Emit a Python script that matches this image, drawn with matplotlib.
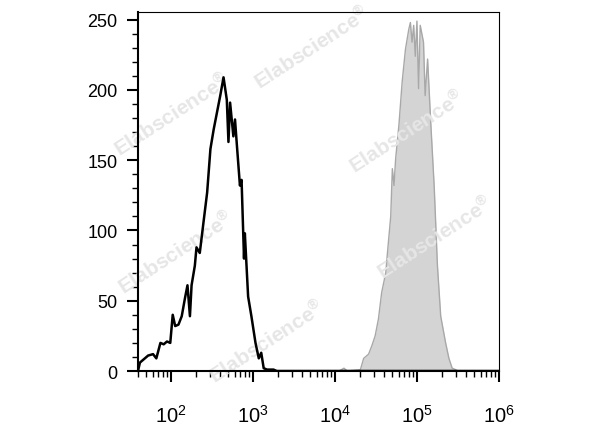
import matplotlib
matplotlib.use("Agg")
import matplotlib.pyplot as plt
import matplotlib.ticker as ticker
import numpy as np

plt.rcParams['font.family'] = ['Liberation Sans', 'DejaVu Sans']
plt.rcParams['mathtext.fontset'] = 'custom'
plt.rcParams['mathtext.rm'] = 'Liberation Sans'
plt.rcParams['mathtext.bf'] = 'Liberation Sans:bold'

# unstained / isotype control (black outline), log10 of fluorescence vs count
ctrl_log = [1.60, 1.62, 1.66, 1.72, 1.78, 1.82, 1.87, 1.91, 1.95, 1.99, 2.02, 2.05,
            2.09, 2.13, 2.17, 2.20, 2.23, 2.25, 2.29, 2.31, 2.35, 2.40, 2.44, 2.48,
            2.52, 2.56, 2.60, 2.64, 2.68, 2.70, 2.72, 2.76, 2.78, 2.80, 2.84, 2.86,
            2.89, 2.90, 2.94, 2.98, 3.03, 3.07, 3.10, 3.13, 3.17, 3.25, 3.29, 6.0]
ctrl_cnt = [1, 6, 8, 11, 12, 9, 20, 19, 21, 20, 40, 32,
            33, 39, 52, 61, 39, 61, 75, 88, 84, 108, 127, 158,
            172, 184, 196, 209, 193, 163, 191, 167, 179, 163, 132, 136,
            80, 98, 53, 39, 20, 9, 13, 2, 1, 1, 0, 0]

# stained sample (grey filled)
stain_log = [1.60, 4.05, 4.11, 4.15, 4.31, 4.35, 4.41, 4.45, 4.49, 4.53, 4.57, 4.62,
             4.64, 4.68, 4.70, 4.72, 4.74, 4.78, 4.82, 4.86, 4.90, 4.92, 4.94,
             4.96, 4.98, 5.00, 5.02, 5.04, 5.08, 5.10, 5.13, 5.17, 5.21, 5.25,
             5.29, 5.35, 5.39, 5.43, 5.47, 5.50, 6.0]
stain_cnt = [0, 0, 2, 0, 1, 9, 12, 18, 25, 37, 56, 70,
             84, 110, 144, 132, 151, 175, 206, 229, 243, 248, 234,
             246, 224, 249, 201, 246, 234, 196, 222, 175, 132, 75,
             39, 20, 9, 2, 1, 0, 0]

x_ticks = [1e2, 1e3, 1e4, 1e5, 1e6]
x_labels = ['$10^{2}$', '$10^{3}$', '$10^{4}$', '$10^{5}$', '$10^{6}$']
y_ticks = [0, 50, 100, 150, 200, 250]

fig = plt.figure(figsize=(6, 4.27), dpi=100)
ax = fig.add_axes([0.2305, 0.1288, 0.601, 0.8408])

stain_x = 10 ** np.array(stain_log)
ctrl_x = 10 ** np.array(ctrl_log)
ax.fill_between(stain_x, stain_cnt, 0, color='#d4d4d4', linewidth=0, zorder=1)
ax.plot(stain_x, stain_cnt, color='#a8a8a8', linewidth=1.0, zorder=1.5)
ax.plot(ctrl_x, ctrl_cnt, color='black', linewidth=1.8, zorder=3)

ax.set_xscale('log')
ax.set_xlim(10 ** 1.6, 1e6)
ax.set_ylim(0, 255.5)

ax.set_xticks(x_ticks)
ax.set_xticklabels(x_labels, fontsize=14.5)
ax.xaxis.set_minor_locator(ticker.LogLocator(base=10, subs=np.arange(2, 10)))
ax.xaxis.set_minor_formatter(ticker.NullFormatter())
ax.set_yticks(y_ticks)
ax.set_yticklabels([str(v) for v in y_ticks], fontsize=13)
ax.yaxis.set_minor_locator(ticker.MultipleLocator(10))

ax.tick_params(axis='both', which='major', direction='out', length=8, width=1.5)
ax.tick_params(axis='both', which='minor', direction='out', length=4, width=1.0)
ax.tick_params(axis='x', which='major', pad=16)
ax.tick_params(axis='y', which='major', pad=7)

ax.spines['left'].set_linewidth(1.5)
ax.spines['bottom'].set_linewidth(1.5)
ax.spines['top'].set_linewidth(0.8)
ax.spines['right'].set_linewidth(0.8)

# watermarks
wm = 'Elabscience$^{\\mathbf{\u00ae}}$'
marks = [(312, 48), (172, 115), (407, 132), (176, 253), (435, 238), (267, 342)]
for px, py in marks:
    ax.text(px / 600, 1 - py / 427, wm, transform=fig.transFigure,
            fontsize=15, fontweight='bold', color='#e6e6e6', rotation=33,
            ha='center', va='center', rotation_mode='anchor', zorder=2)

fig.savefig('out.png', dpi=100)
